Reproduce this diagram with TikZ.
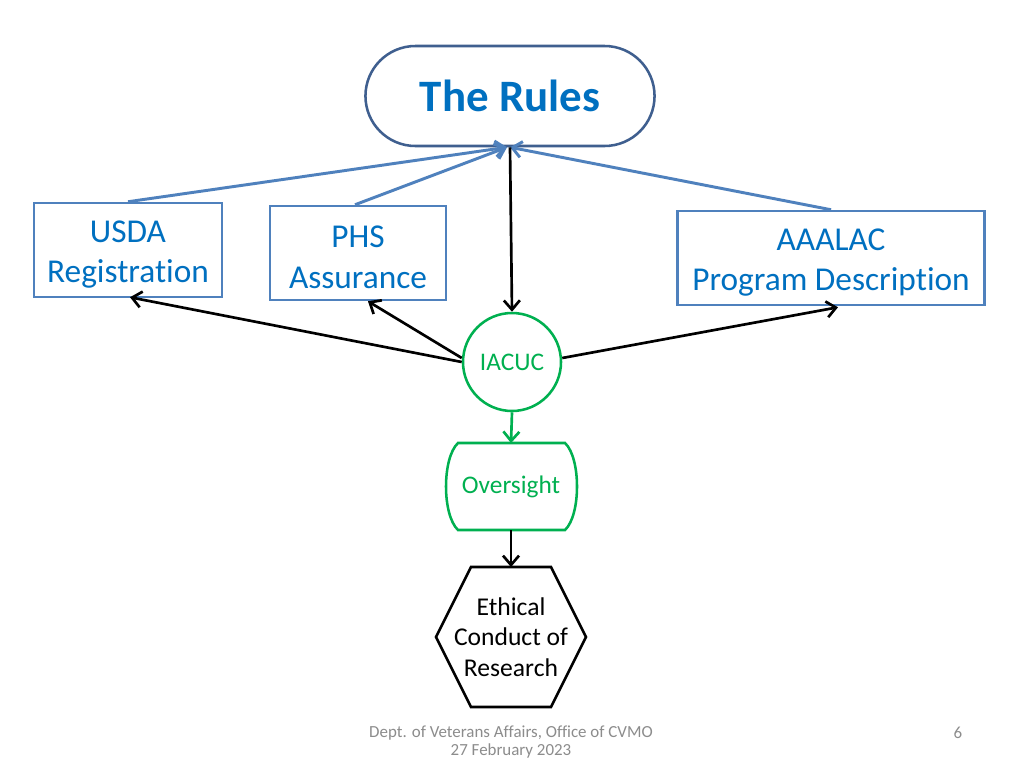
\documentclass[tikz,border=0pt]{standalone}
\usepackage{fontspec}
\setmainfont{Carlito}[Ligatures=NoCommon]
\usetikzlibrary{arrows.meta,shapes.misc,calc}
\definecolor{rulesborder}{HTML}{3F5F8F}
\definecolor{boxblue}{HTML}{4F81BD}
\definecolor{textblue}{HTML}{0070C0}
\definecolor{grn}{HTML}{00B050}
\definecolor{footgray}{HTML}{8C8C8C}
\tikzset{
  bluebox/.style={draw=boxblue, line width=1.9pt, text=textblue, align=center,
    font=\fontsize{25}{30.5}\selectfont, minimum height=70.5pt, inner sep=0pt},
  bluearrow/.style={draw=boxblue, line width=2.2pt, -{Straight Barb[length=7pt,width=12pt]}},
  blackarrow/.style={draw=black, line width=2pt, -{Straight Barb[length=7pt,width=12pt]}},
  greenarrow/.style={draw=grn, line width=2pt, -{Straight Barb[length=7pt,width=12pt]}},
  greenline/.style={draw=grn, line width=1.9pt},
  footer/.style={text=footgray, font=\fontsize{12.7}{13.5}\selectfont, align=center, inner sep=0pt}
}
\newcommand{\firstline}{\rule{0pt}{23pt}}
\begin{document}
\begin{tikzpicture}[x=0.75pt,y=-0.75pt]
\useasboundingbox[fill=white] (0,0) rectangle (1024,768);
% top node
\node[rounded rectangle, draw=rulesborder, line width=1.9pt, minimum width=223.5pt,
  minimum height=75pt, text=textblue, font=\fontsize{33.7}{40}\selectfont\bfseries] (rules) at (510,96) {The Rules};
% blue boxes
\node[bluebox, minimum width=141pt] (usda) at (128,250) {\firstline USDA\\Registration};
\node[bluebox, minimum width=132pt] (phs) at (358,253) {\firstline PHS\\Assurance};
\node[bluebox, minimum width=230.25pt] (aaalac) at (831,258) {\firstline AAALAC\\Program Description};
% IACUC
\node[circle, draw=grn, line width=1.9pt, minimum size=73.5pt, inner sep=0pt, text=grn,
  font=\fontsize{19}{22}\selectfont] (iacuc) at (512,362) {IACUC};
% Oversight
\node[minimum width=98.25pt, minimum height=65.25pt, inner sep=0pt, text=grn,
  font=\fontsize{19}{22}\selectfont] (oversight) at (511,487) {Oversight};
\draw[greenline] ($(oversight)+(-53,-44)$) -- ($(oversight)+(54,-44)$)
  .. controls ($(oversight)+(70,-29)$) and ($(oversight)+(70,28)$) .. ($(oversight)+(54,43)$)
  -- ($(oversight)+(-53,43)$)
  .. controls ($(oversight)+(-69,28)$) and ($(oversight)+(-69,-29)$) .. cycle;
% hexagon
\node[minimum width=111.75pt, minimum height=105pt, inner sep=0pt, align=center,
  font=\fontsize{19.2}{22.9}\selectfont] (hex) at (511,637) {Ethical\\Conduct of\\Research};
\draw[line width=1.9pt, line join=miter] ($(hex)+(-40,-70)$) -- ($(hex)+(40,-70)$) -- ($(hex)+(75,0)$)
  -- ($(hex)+(40,70)$) -- ($(hex)+(-40,70)$) -- ($(hex)+(-75,0)$) -- cycle;
% blue arrows
\draw[bluearrow] (usda.north) -- ($(rules.south)+(-3,0)$);
\draw[bluearrow] ($(phs.north)+(-3,0)$) -- ($(rules.south)+(-3,0)$);
\draw[bluearrow] (aaalac.north) -- ($(rules.south)+(0,0)$);
% black arrows
\draw[blackarrow] (rules.south) -- (iacuc.north);
\draw[blackarrow] (iacuc.west) -- ($(usda.south)+(2,-1)$);
\draw[blackarrow] ($(iacuc.west)+(0,-4)$) -- ($(phs.south)+(10,0)$);
\draw[blackarrow] ($(iacuc.east)+(0,-4)$) -- ($(aaalac.south)+(7,1)$);
\draw[greenarrow] (iacuc.south) -- ($(oversight)+(0,-44)$);
\draw[blackarrow] ($(oversight)+(0,43)$) -- ($(hex)+(0,-70)$);
% footer
\node[footer] (foot) at (511,742) {Dept. of Veterans Affairs, Office of CVMO\\27 February 2023};
\node[footer] (page) at (958,733) {6};
\end{tikzpicture}
\end{document}
